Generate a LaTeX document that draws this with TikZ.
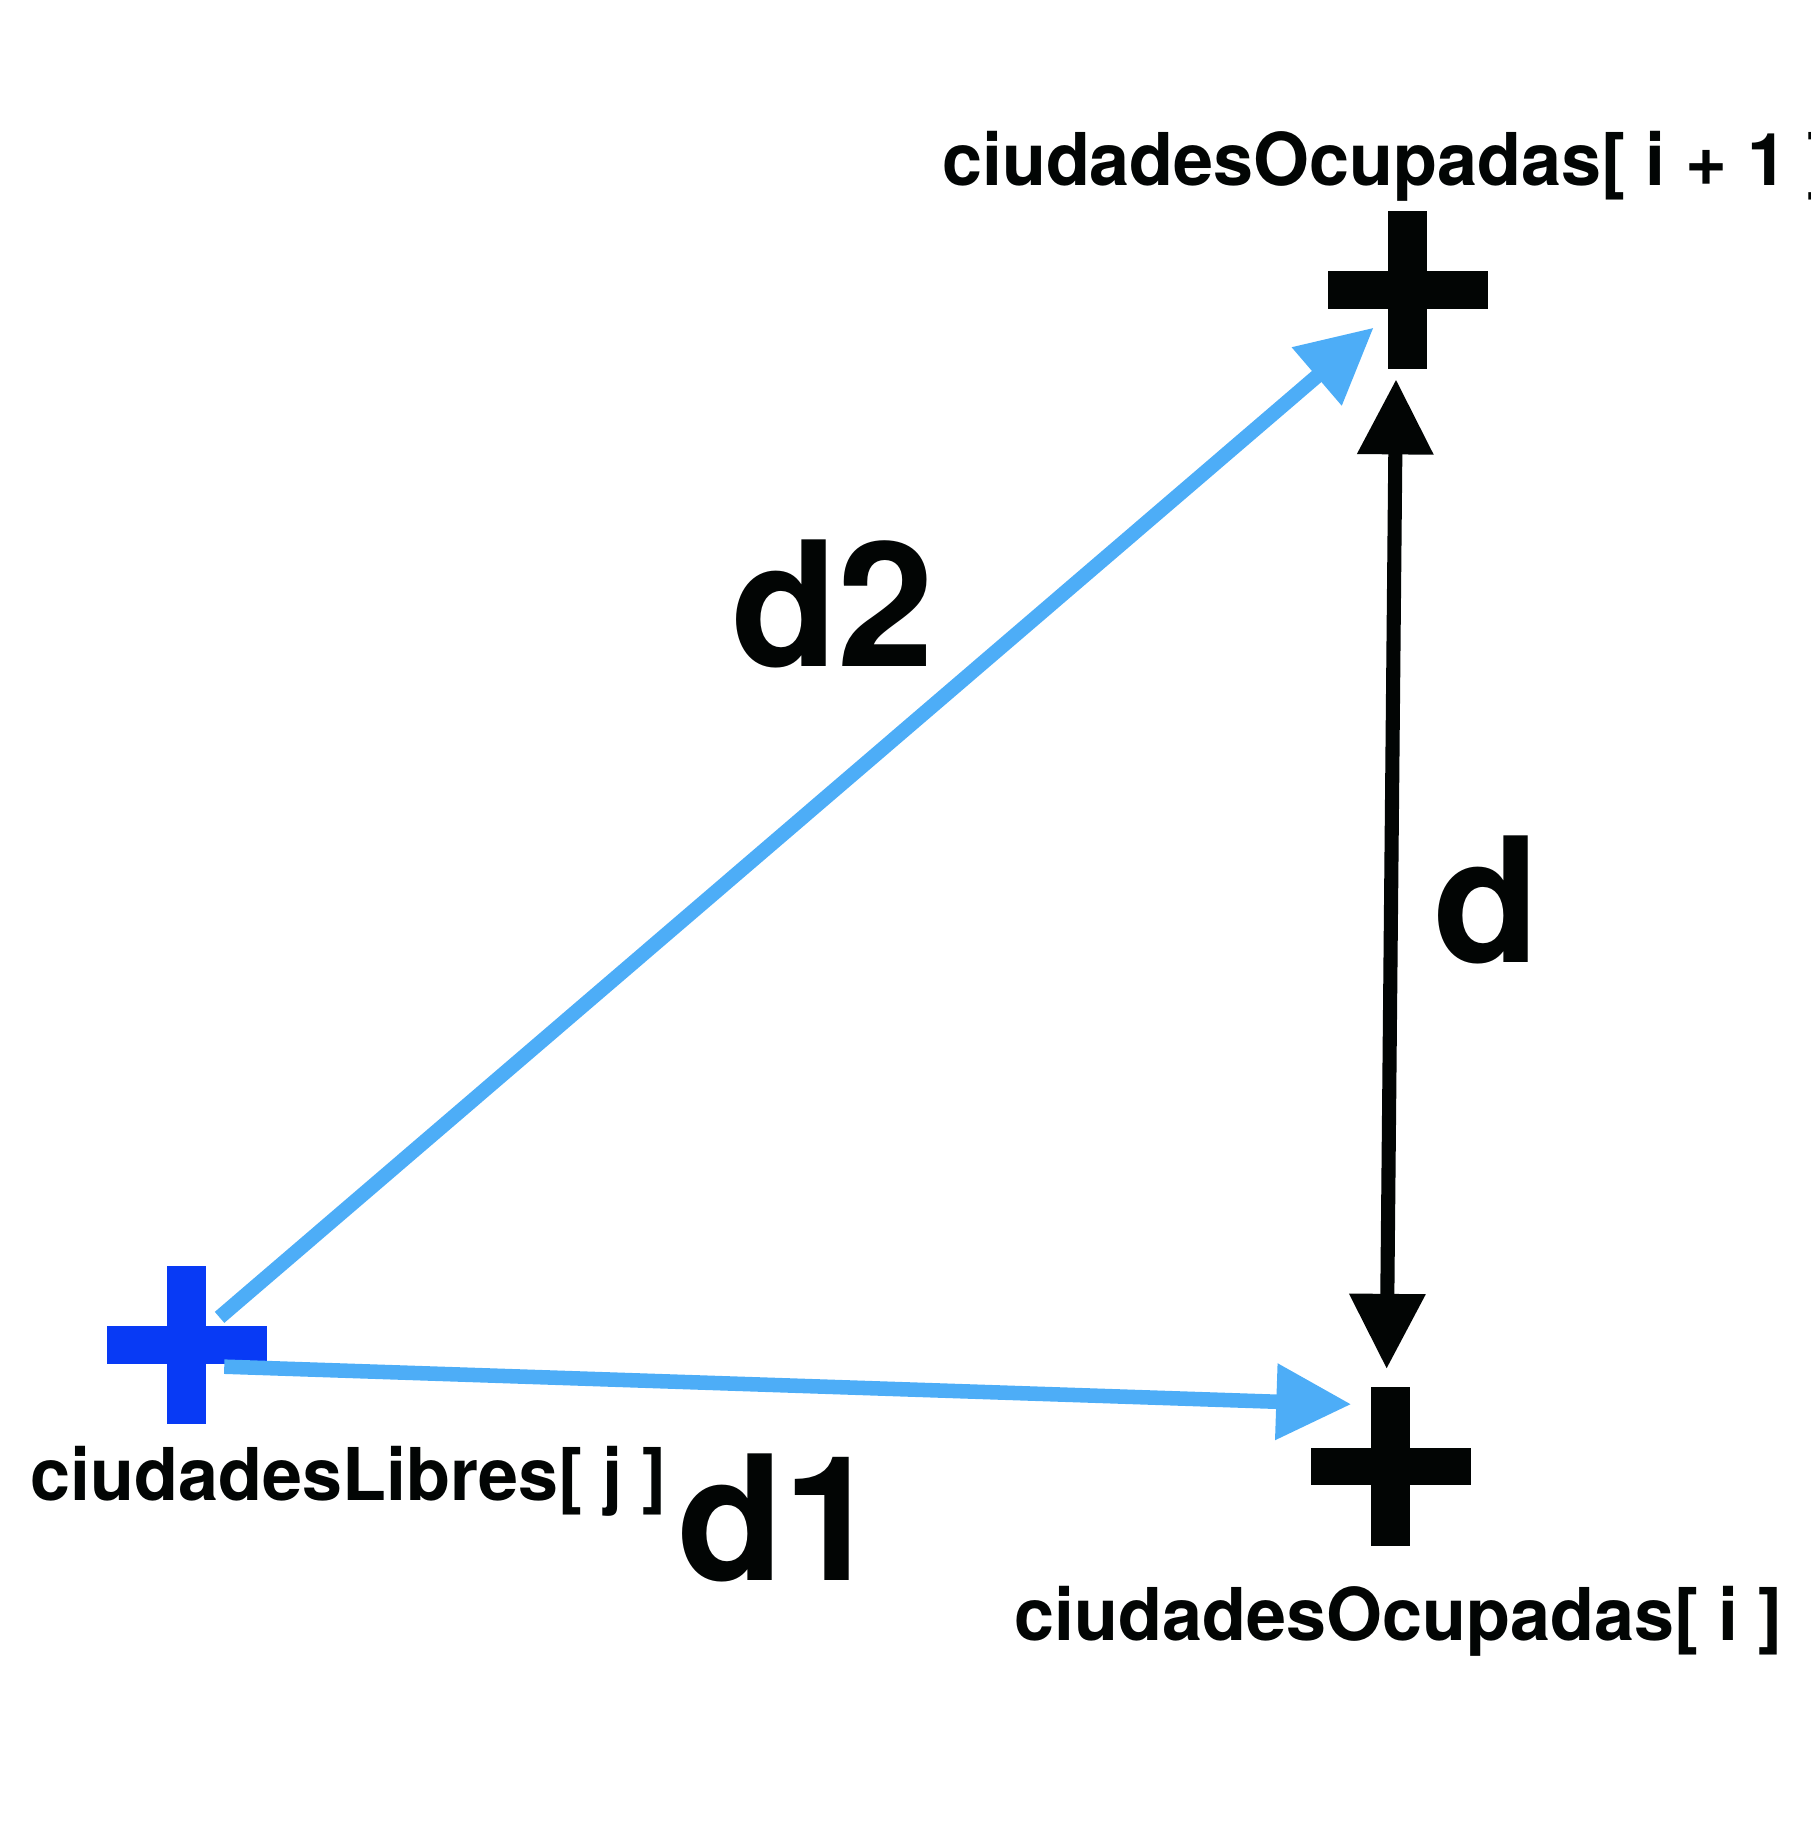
\documentclass[tikz,border=0pt]{standalone}
\usepackage{fontspec}
\usepackage{graphicx}
\setmainfont{TeX Gyre Heros}
\usetikzlibrary{arrows.meta}
\definecolor{crossblue}{RGB}{8,58,245}
\definecolor{arrowblue}{RGB}{77,173,247}
\definecolor{ink}{RGB}{2,5,4}
\tikzset{tri/.tip={Triangle[length=32pt,width=31pt]}}
\newcommand\squeezed[1]{\scalebox{0.988}[1]{#1}}
\begin{document}
\begin{tikzpicture}[x=0.5pt,y=-0.5pt,
  lbl/.style={font=\fontsize{31}{36}\selectfont\bfseries, inner sep=0, text=ink},
  big/.style={font=\fontsize{74}{80}\selectfont\bfseries, inner sep=0, text=ink},
  pics/crossmark/.style={code={
    \fill (-16.5,-67.5) rectangle (16.5,67.5);
    \fill (-68,-16) rectangle (68,16);}},
  bluearrow/.style={draw=arrowblue, line width=6.2pt, -{tri}},
  blackarrow/.style={draw=ink, line width=6pt, {tri}-{tri}}
]
\useasboundingbox (0,0) rectangle (1542,1568);

% crosses
\pic[fill=ink] at (1199,247) {crossmark};
\pic[fill=ink] at (1184.5,1249) {crossmark};
\pic[fill=crossblue] at (159,1145.5) {crossmark};

% labels
\node[lbl, anchor=base west] (ltop) at (802,158) {\squeezed{ciudadesOcupadas[ i + 1 ]}};
\node[lbl, anchor=base] (lbot) at (1191,1397) {\squeezed{ciudadesOcupadas[ i ]}};
\node[lbl, anchor=base] (llib) at (297,1278) {\squeezed{ciudadesLibres[ j ]}};
\node[big, anchor=base] (d2) at (709.5,568) {d2};
\node[big, anchor=base] (d) at (1266.5,820) {d};
\node[big, anchor=base] (d1) at (663,1346) {d1};

% connector ends
\coordinate (s2) at (187,1122);
\coordinate (e2) at (1170,279);
\coordinate (s1) at (191,1164);
\coordinate (e1) at (1151,1196);
\coordinate (dt) at (1189,323);
\coordinate (db) at (1181,1166);

\draw[bluearrow] (s2) -- (e2);
\draw[bluearrow] (s1) -- (e1);
\draw[blackarrow] (dt) -- (db);
\end{tikzpicture}
\end{document}
